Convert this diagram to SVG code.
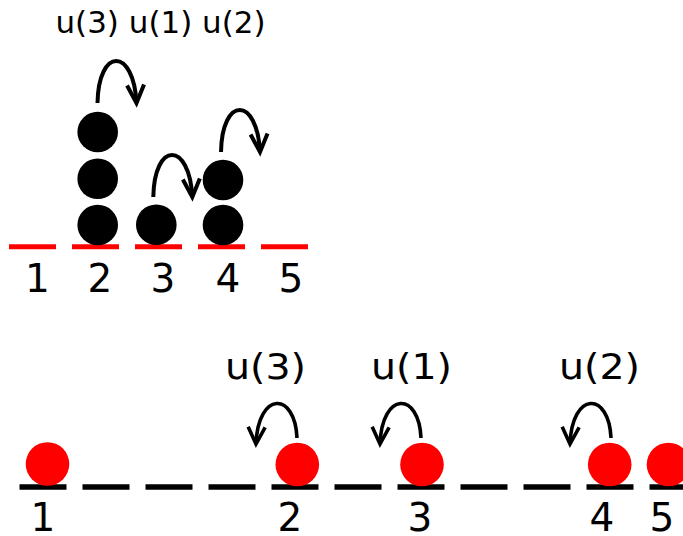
<svg xmlns="http://www.w3.org/2000/svg" width="683" height="536" viewBox="0 0 683 536">
  <style>
    text { font-family: "DejaVu Sans", "Liberation Sans", sans-serif; fill: #000; }
    .num { font-size: 39px; text-anchor: middle; }
    .lbl { font-size: 36px; text-anchor: middle; }
    .red-site { stroke: #ff0000; stroke-width: 5; }
    .blk-site { stroke: #000; stroke-width: 5.5; }
    .ball { fill: #000; }
    .rball { fill: #ff0000; }
    .arc { fill: none; stroke: #000; stroke-width: 4; marker-end: url(#ah); }
    .arc2 { fill: none; stroke: #000; stroke-width: 3.6; marker-end: url(#ah2); }
  </style>
  <defs>
    <marker id="ah" markerUnits="userSpaceOnUse" orient="auto" overflow="visible" markerWidth="1" markerHeight="1" refX="0" refY="0">
      <path d="M-18,-8.5 L0,0 L-18,8.5" fill="none" stroke="#000" stroke-width="4"/>
    </marker>
    <marker id="ah2" markerUnits="userSpaceOnUse" orient="auto" overflow="visible" markerWidth="1" markerHeight="1" refX="0" refY="0">
      <path d="M-17,-8.5 L0,0 L-17,8.5" fill="none" stroke="#000" stroke-width="3.6"/>
    </marker>
  </defs>

  <!-- Top panel -->
  <g id="top-title">
    <text x="160.5" y="33" style="font-size:30px;text-anchor:middle" textLength="210" lengthAdjust="spacingAndGlyphs">u(3) u(1) u(2)</text>
  </g>
  <g id="top-site-1"><line class="red-site" x1="9" y1="246.8" x2="56" y2="246.8"/><text class="num" x="37.5" y="292">1</text></g>
  <g id="top-site-2"><line class="red-site" x1="72" y1="246.8" x2="119" y2="246.8"/><text class="num" x="100" y="292">2</text></g>
  <g id="top-site-3"><line class="red-site" x1="135" y1="246.8" x2="182" y2="246.8"/><text class="num" x="163" y="292">3</text></g>
  <g id="top-site-4"><line class="red-site" x1="198" y1="246.8" x2="245" y2="246.8"/><text class="num" x="228" y="292">4</text></g>
  <g id="top-site-5"><line class="red-site" x1="261" y1="246.8" x2="308" y2="246.8"/><text class="num" x="291" y="292">5</text></g>

  <g id="top-ball-2a"><circle class="ball" cx="97.7" cy="225" r="20.3"/></g>
  <g id="top-ball-2b"><circle class="ball" cx="97.7" cy="178.8" r="20.3"/></g>
  <g id="top-ball-2c"><circle class="ball" cx="97.7" cy="132" r="20.3"/></g>
  <g id="top-ball-3a"><circle class="ball" cx="156.3" cy="224.7" r="20.3"/></g>
  <g id="top-ball-4a"><circle class="ball" cx="223" cy="225" r="20.3"/></g>
  <g id="top-ball-4b"><circle class="ball" cx="223" cy="180" r="20.3"/></g>

  <!-- Bottom panel -->
  <g id="bottom-sites">
    <line class="blk-site" x1="19.5" y1="487" x2="66.5" y2="487"/>
    <line class="blk-site" x1="82.5" y1="487" x2="129.5" y2="487"/>
    <line class="blk-site" x1="145.5" y1="487" x2="192.5" y2="487"/>
    <line class="blk-site" x1="208.5" y1="487" x2="255.5" y2="487"/>
    <line class="blk-site" x1="271.5" y1="487" x2="318.5" y2="487"/>
    <line class="blk-site" x1="334.5" y1="487" x2="381.5" y2="487"/>
    <line class="blk-site" x1="397.5" y1="487" x2="444.5" y2="487"/>
    <line class="blk-site" x1="460.5" y1="487" x2="507.5" y2="487"/>
    <line class="blk-site" x1="523.5" y1="487" x2="570.5" y2="487"/>
    <line class="blk-site" x1="586.5" y1="487" x2="633.5" y2="487"/>
    <line class="blk-site" x1="649.5" y1="487" x2="696.5" y2="487"/>
  </g>
  <g id="bottom-ball-1"><circle class="rball" cx="47.5" cy="464" r="21.8"/><text class="num" x="43" y="531">1</text></g>
  <g id="bottom-ball-2"><circle class="rball" cx="297.3" cy="464.5" r="21.8"/><text class="num" x="290" y="531">2</text></g>
  <g id="bottom-ball-3"><circle class="rball" cx="422" cy="464.5" r="21.8"/><text class="num" x="420" y="531">3</text></g>
  <g id="bottom-ball-4"><circle class="rball" cx="609.7" cy="464.5" r="21.8"/><text class="num" x="602" y="531">4</text></g>
  <g id="bottom-ball-5"><circle class="rball" cx="668.5" cy="464.5" r="21.8"/><text class="num" x="662" y="531">5</text></g>

  <g id="bottom-labels">
    <text class="lbl" x="265.5" y="378.5" textLength="81" lengthAdjust="spacingAndGlyphs">u(3)</text>
    <text class="lbl" x="411.5" y="378.5" textLength="81" lengthAdjust="spacingAndGlyphs">u(1)</text>
    <text class="lbl" x="599.5" y="378.5" textLength="81" lengthAdjust="spacingAndGlyphs">u(2)</text>
  </g>

  <!-- Connectors -->
  <g id="connectors">
    <path class="arc" d="M97.5,103 C98.5,47 133.5,47 136.5,103"/>
    <path class="arc" d="M153.3,197 C154.3,141 189.3,141 192.3,197"/>
    <path class="arc" d="M221,152 C222,96 257,96 260,152"/>
    <path class="arc2" d="M297,438 C295,391 258,391 256,444"/>
    <path class="arc2" d="M421,438 C419,391 382,391 380,444"/>
    <path class="arc2" d="M611,438 C609,391 572,391 570,444"/>
  </g>
</svg>
